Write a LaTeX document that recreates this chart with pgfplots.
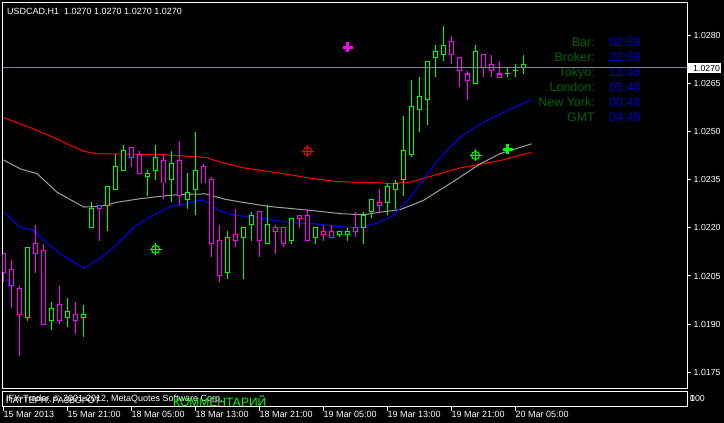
\documentclass[border=0pt]{standalone}
\usepackage{pgfplots}
\pgfplotsset{compat=1.18}
\usepackage{pgfplotstable}
\usepackage{fontspec}
\setmainfont{Liberation Sans}

\definecolor{bull}{RGB}{0,255,0}
\definecolor{bear}{RGB}{255,0,255}
\definecolor{magrey}{RGB}{160,160,160}
\definecolor{pricegrey}{RGB}{119,136,153}
\definecolor{lblgreen}{RGB}{0,100,0}
\definecolor{valblue}{RGB}{0,0,205}

% USDCAD H1 bars, k = bar index (15 Mar 13:00 = 0)
\pgfplotstableread{
k o h l c
0 1.0212 1.0212 1.0203 1.0206
1 1.0207 1.0210 1.0195 1.0202
2 1.0201 1.0202 1.0180 1.0193
3 1.0192 1.0214 1.0191 1.0214
4 1.0215 1.0221 1.0206 1.0212
5 1.0213 1.0215 1.0190 1.0190
6 1.0191 1.0197 1.0188 1.0195
7 1.0196 1.0202 1.0190 1.0191
8 1.0192 1.0198 1.0189 1.0194
9 1.0193 1.0197 1.0187 1.0191
10 1.0192 1.0196 1.0186 1.0193
11 1.0220 1.0228 1.0220 1.0226
12 1.0227 1.0227 1.0216 1.0226
13 1.0227 1.0233 1.0219 1.0233
14 1.0232 1.0243 1.0232 1.0239
15 1.0238 1.0246 1.0238 1.0244
16 1.0245 1.0245 1.0239 1.0242
17 1.0243 1.0244 1.0237 1.0237
18 1.0236 1.0238 1.0230 1.0237
19 1.0238 1.0246 1.0235 1.0242
20 1.0241 1.0243 1.0229 1.0234
21 1.0235 1.0244 1.0228 1.0240
22 1.0241 1.0247 1.0227 1.0230
23 1.0229 1.0237 1.0226 1.0231
24 1.0232 1.0250 1.0224 1.0238
25 1.0239 1.0240 1.0234 1.0234
26 1.0235 1.0236 1.0211 1.0215
27 1.0216 1.0221 1.0203 1.0205
28 1.0206 1.0219 1.0204 1.0217
29 1.0218 1.0226 1.0214 1.0216
30 1.0217 1.0220 1.0204 1.0220
31 1.0221 1.0225 1.0216 1.0224
32 1.0225 1.0225 1.0211 1.0216
33 1.0215 1.0227 1.0215 1.0221
34 1.0220 1.0221 1.0212 1.0219
35 1.0220 1.0220 1.0214 1.0215
36 1.0216 1.0223 1.0215 1.0223
37 1.0224 1.0224 1.0220 1.0223
38 1.0224 1.0226 1.0216 1.0216
39 1.0217 1.0220 1.0215 1.0220
40 1.0219 1.0221 1.0216 1.0218
41 1.0219 1.0221 1.0217 1.0217
42 1.0218 1.0219 1.0217 1.0219
43 1.0218 1.0220 1.0216 1.0219
44 1.0220 1.0225 1.0217 1.0219
45 1.0220 1.0225 1.0215 1.0224
46 1.0225 1.0229 1.0223 1.0229
47 1.0228 1.0232 1.0225 1.0227
48 1.0228 1.0234 1.0224 1.0233
49 1.0232 1.0235 1.0226 1.0234
50 1.0235 1.0255 1.0230 1.0244
51 1.0243 1.0266 1.0242 1.0258
52 1.0257 1.0267 1.0250 1.0261
53 1.0260 1.0272 1.0252 1.0272
54 1.0273 1.0277 1.0267 1.0275
55 1.0274 1.0283 1.0272 1.0277
56 1.0278 1.0280 1.0271 1.0274
57 1.0273 1.0273 1.0264 1.0269
58 1.0268 1.0269 1.0260 1.0266
59 1.0265 1.0277 1.0265 1.0275
60 1.0274 1.0274 1.0267 1.0270
61 1.0271 1.0274 1.0267 1.0269
62 1.0268 1.0272 1.0267 1.0267
63 1.0268 1.0270 1.0267 1.0268
64 1.0269 1.0271 1.0267 1.0269
65 1.0270 1.0274 1.0268 1.0271
66 1.0270 1.0270 1.0270 1.0270
}\ohlc

% one vertical stroke per bar, drawn as a quiver segment
\pgfplotsset{
  up/.style={restrict expr to domain={\thisrow{c}-\thisrow{o}}{-0.00005:1}},
  down/.style={restrict expr to domain={\thisrow{o}-\thisrow{c}}{0.00005:1}},
  stroke/.style 2 args={color=#2, line width=#1, line cap=butt, mark=none, forget plot},
}

\begin{document}
\begin{tikzpicture}[x=1pt,y=1pt]
\fill[black] (0,0) rectangle (724,-423);

\begin{axis}[
  at={(2.5pt,-2.5pt)}, anchor=north west, scale only axis,
  width=685pt, height=386pt,
  xmin=-0.125, xmax=85.5, ymin=1.01699, ymax=1.02903,
  axis line style={white, line width=1pt},
  xtick=\empty,
  ytick={1.0175,1.0190,1.0205,1.0220,1.0235,1.0250,1.0265,1.0280},
  scaled y ticks=false,
  ytick pos=right, tick align=outside, major tick length=3pt,
  tick style={white, line width=1pt},
  yticklabel style={white, anchor=west, inner sep=0pt, xshift=3pt,
    font=\fontsize{8.8}{10}\selectfont,
    /pgf/number format/.cd, fixed, fixed zerofill, precision=4, assume math mode=true},
]
% moving averages
\addplot[red, line width=1pt, mark=none] coordinates {
(0,1.02544) (3.75,1.02509) (6.71,1.02477) (7.96,1.02462) (10.04,1.02439)
(11.71,1.02431) (19.6,1.02429) (22.1,1.02425) (25.25,1.02420) (26.5,1.02410)
(27.75,1.02401) (29.84,1.02388) (33.1,1.02376) (35.25,1.02368) (38.1,1.02356)
(41.5,1.02345) (44.9,1.02341) (46.5,1.02341) (48.4,1.02338) (50.9,1.02343)
(53,1.02358) (55.5,1.02376) (57.1,1.02387) (59.25,1.02397) (62.1,1.02410) (66,1.02436)};
\addplot[magrey, line width=1pt, mark=none] coordinates {
(0,1.02412) (2.1,1.02384) (4.2,1.02369) (6.7,1.02311) (10.04,1.02265)
(12.1,1.02267) (14.2,1.02280) (17.1,1.02291) (20.5,1.02301) (22.1,1.02304)
(25.25,1.02306) (27.75,1.02289) (29.84,1.02280) (33.1,1.02267) (36.1,1.02260)
(39,1.02253) (42.3,1.02244) (45,1.02241) (47.1,1.02249) (49.6,1.02257)
(52.5,1.02286) (56.25,1.02345) (59.6,1.02400) (62.1,1.02432) (66,1.02462)};
\addplot[blue, line width=1pt, mark=none] coordinates {
(0,1.02249) (2.1,1.02202) (3.8,1.02192) (5.04,1.02161) (7.1,1.02119)
(10.04,1.02074) (12.1,1.02106) (13.8,1.02140) (16.3,1.02202) (18.4,1.02236)
(20.9,1.02267) (22.1,1.02271) (24.8,1.02288) (25.6,1.02280) (26.9,1.02254)
(29,1.02239) (31.9,1.02232) (34,1.02223) (36.1,1.02216) (39,1.02213)
(41.5,1.02205) (44.3,1.02200) (46.5,1.02213) (48.75,1.02239) (50.9,1.02296)
(53,1.02369) (55,1.02431) (57.1,1.02483) (59.25,1.02519) (61.25,1.02545)
(63.4,1.02571) (66,1.02600)};
\addplot[blue, line width=1pt, mark=none] coordinates {(0.66,1.02040) (0.66,1.02008)};

% candles: wicks, outlined bodies, hollow inside
\addplot[up, stroke={1pt}{bull}, quiver={u=0, v=\thisrow{h}-\thisrow{l}}]
  table[x=k, y=l] {\ohlc};
\addplot[down, stroke={1pt}{bear}, quiver={u=0, v=\thisrow{h}-\thisrow{l}}]
  table[x=k, y=l] {\ohlc};
\addplot[up, stroke={5pt}{bull}, quiver={u=0, v=\thisrow{c}-\thisrow{o}+0.0000312}]
  table[x=k, y expr=\thisrow{o}-0.0000156] {\ohlc};
\addplot[down, stroke={5pt}{bear}, quiver={u=0, v=\thisrow{o}-\thisrow{c}+0.0000312}]
  table[x=k, y expr=\thisrow{c}-0.0000156] {\ohlc};
\addplot[stroke={3pt}{black}, quiver={u=0, v={max(abs(\thisrow{c}-\thisrow{o})-0.0000312,0)}}]
  table[x=k, y expr={min(\thisrow{o},\thisrow{c})+0.0000156}] {\ohlc};

% signal marks
\addplot[only marks, mark=o, mark size=4pt, red, line width=1pt] coordinates {(38,1.02439)};
\addplot[only marks, mark=+, mark size=6pt, red, line width=1pt] coordinates {(38,1.02439)};
\addplot[only marks, mark=o, mark size=4pt, bull, line width=1pt] coordinates {(19,1.02133) (59,1.02426)};
\addplot[only marks, mark=+, mark size=6pt, bull, line width=1pt] coordinates {(19,1.02133) (59,1.02426)};
\addplot[only marks, mark=+, mark size=5pt, bear, line width=3pt] coordinates {(43,1.02764)};
\addplot[only marks, mark=+, mark size=5pt, bull, line width=3pt] coordinates {(63,1.02446)};
\end{axis}

% indicator sub-window with the time axis
\begin{axis}[
  at={(2.5pt,-391.5pt)}, anchor=north west, scale only axis,
  width=685pt, height=15pt,
  xmin=-0.125, xmax=85.5, ymin=0, ymax=100,
  axis line style={white, line width=1pt},
  ytick=\empty,
  xtick={0,8,...,64},
  xticklabels={15 Mar 2013, 15 Mar 21:00, 18 Mar 05:00, 18 Mar 13:00, 18 Mar 21:00,
    19 Mar 05:00, 19 Mar 13:00, 19 Mar 21:00, 20 Mar 05:00},
  xtick pos=bottom, tick align=outside, major tick length=4pt,
  tick style={white, line width=1pt},
  xticklabel style={white, anchor=north west, inner sep=0pt, yshift=-1pt,
    font=\fontsize{9}{10}\selectfont},
]
\addplot[draw=none] coordinates {(0,50)};
\end{axis}

% texts
\node[white, anchor=base west, inner sep=0pt, font=\fontsize{9}{10}\selectfont]
  at (7,-14) {USDCAD,H1\ \ 1.0270 1.0270 1.0270 1.0270};

\begin{scope}[font=\fontsize{12.5}{14}\selectfont, inner sep=0pt]
\foreach \lab/\val/\yy in {Bar:/02:59/46, Broker:/22:59/61, Tokyo:/13:48/76,
    London:/05:48/91, New York:/00:48/106, GMT/04:48/121} {
  \node[lblgreen, anchor=base east] at (595,-\yy) {\lab};
  \node[valblue, anchor=base west] at (609,-\yy) {\val};
}
\end{scope}
\draw[pricegrey, line width=1pt] (3,-67.5) -- (687,-67.5);

\fill[white] (688,-62.5) rectangle (721,-73);
\node[black, anchor=base west, inner sep=0pt, font=\fontsize{8.8}{10}\selectfont] at (693,-71) {1.0270};

\begin{scope}
\clip (3,-392) rectangle (687,-406);
\node[white, anchor=base west, inner sep=0pt, font=\fontsize{9}{10}\selectfont]
  at (6,-401.5) {IFX-Trader, © 2001-2012, MetaQuotes Software Corp.};
\node[white, anchor=base west, inner sep=0pt, font=\fontsize{9}{10}\selectfont]
  at (6,-403) {ПАТТЕРН: РАЗВОРОТ};
\node[bull, anchor=base west, inner sep=0pt, font=\fontsize{12}{14}\selectfont]
  at (173,-406) {КОММЕНТАРИЙ};
\end{scope}
\node[white, anchor=base west, inner sep=0pt, font=\fontsize{8.8}{10}\selectfont] at (690,-401.5) {100};
\node[white, anchor=base west, inner sep=0pt, font=\fontsize{8.8}{10}\selectfont] at (690,-401.5) {0};

\pgfresetboundingbox
\path (0,0) rectangle (724,-423);
\end{tikzpicture}
\end{document}
